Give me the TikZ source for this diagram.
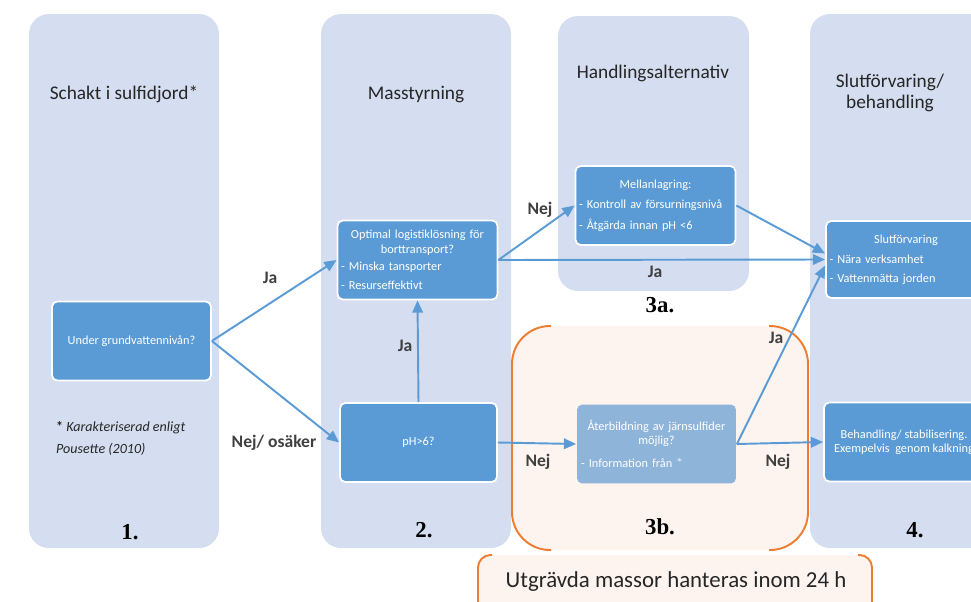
\documentclass[tikz,border=0pt]{standalone}
\usepackage{fontspec}
\setmainfont{Carlito}
\newfontfamily\numfont{Liberation Serif}
\usetikzlibrary{arrows.meta,positioning}
\definecolor{colbg}{RGB}{212,222,240}
\definecolor{boxblue}{RGB}{91,155,213}
\definecolor{boxpale}{RGB}{142,180,218}
\definecolor{peach}{RGB}{253,244,240}
\definecolor{orangeline}{RGB}{237,125,49}
\definecolor{txtgray}{RGB}{38,38,38}
\definecolor{lblgray}{RGB}{64,64,64}
\newcommand{\itm}[1]{\makebox[\hsize][l]{- #1}}
\tikzset{
  column/.style={fill=colbg, rounded corners=0.4cm},
  box/.style={draw=white, line width=1pt, fill=boxblue, rounded corners=3pt, text=white,
    font=\fontsize{7}{8.2}\selectfont, minimum width=3.18cm, minimum height=1.58cm, inner sep=2pt},
  listbox/.style={box, text width=3.06cm, align=center},
  title/.style={text=txtgray, font=\fontsize{11}{12}\selectfont, align=center},
  num/.style={text=black, font=\numfont\bfseries\fontsize{13}{15}\selectfont},
  lbl/.style={text=lblgray, font=\bfseries\fontsize{10}{12}\selectfont},
  flow/.style={draw=boxblue, line width=1.1pt, -{Triangle[length=7pt,width=6pt]}},
  bracket/.style={draw=orangeline, line width=1.1pt}
}

\begin{document}
\begin{tikzpicture}[x=0.02cm,y=-0.02cm]
  \useasboundingbox (0,0) rectangle (971,602);
  \clip (0,0) rectangle (971,602);

  % kolumner
  \fill[column] (29,14) rectangle (219,548);
  \fill[column] (321,14) rectangle (511,548);
  \fill[column] (558,16) rectangle (749,291);
  \fill[column] (810,14) rectangle (1010,548);

  % 3b
  \fill[peach, rounded corners=0.76cm] (512,326) rectangle (808,550);
  \draw[bracket, rounded corners=0.76cm] (551,326) -- (512,326) -- (512,550) -- (551,550);
  \draw[bracket, rounded corners=0.76cm] (769,326) -- (808,326) -- (808,550) -- (769,550);

  % 24 h
  \fill[peach, rounded corners=0.25cm] (478,555) rectangle (872,640);
  \draw[bracket, rounded corners=0.25cm] (492,555) -- (478,555) -- (478,640);
  \draw[bracket, rounded corners=0.25cm] (858,555) -- (872,555) -- (872,640);
  \node[text=txtgray, font=\fontsize{13}{15}\selectfont] (note) at (676,582) {Utgrävda massor hanteras inom 24 h};

  \node[title] (t1) at (124,94) {Schakt i sulfidjord*};
  \node[title] (t2) at (416,95) {Masstyrning};
  \node[title] (t3) at (653,73) {Handlingsalternativ};
  \node[title] (t4) at (890,93) {Slutförvaring/\\behandling};

  \node[num] (n1) at (130,532) {1.};
  \node[num] (n2) at (424,530) {2.};
  \node[num] (n3a) at (660,305) {3a.};
  \node[num] (n3b) at (660,527) {3b.};
  \node[num] (n4) at (915,530) {4.};

  \node[text=txtgray, font=\itshape\fontsize{8}{12.5}\selectfont, align=left, anchor=west] (fn) at (50,438)
    {{\upshape\bfseries *} Karakteriserad enligt\\Pousette (2010)};

  % rutor
  \node[box] (grund) at (131.5,341) {Under grundvattennivån?};
  \node[listbox] (logistik) at (417.5,260)
    {Optimal logistiklösning för\\borttransport?\\[2pt]\itm{Minska tansporter}\\[2.5pt]\itm{Resurseffektivt}};
  \node[box, minimum width=3.14cm] (ph) at (418.5,442.5) {pH>6?};
  \node[listbox] (mellan) at (655.5,205.5)
    {Mellanlagring:\\[3.5pt]\itm{Kontroll av försurningsnivå}\\[3.5pt]\itm{Åtgärda innan pH <6}};
  \node[listbox, fill=boxpale, draw=none, text width=3.02cm] (aterbild) at (656.5,444)
    {Återbildning av järnsulfider\\möjlig?\\[5pt]\itm{Information från $^{*}$}};
  \node[listbox, minimum height=1.54cm] (slut) at (906,259.5)
    {Slutförvaring\\[3.5pt]\itm{Nära verksamhet}\\[2.5pt]\itm{Vattenmätta jorden}};
  \node[box, align=center, minimum width=3.2cm] (behand) at (904,442)
    {Behandling/ stabilisering.\\Exempelvis\ \ genom kalkning};

  % pilar
  \draw[flow] (grund.east) -- (logistik.west);
  \draw[flow] (grund.east) -- (ph.west);
  \draw[flow] (ph.north) -- (logistik.south);
  \draw[flow] (ph.east) -- (aterbild.west);
  \draw[flow] (logistik.east) -- (mellan.west);
  \draw[flow] (logistik.east) -- (slut.west);
  \draw[flow] (mellan.east) -- ([yshift=0.12cm]slut.west);
  \draw[flow] (aterbild.east) -- ([yshift=-0.12cm]slut.west);
  \draw[flow] (aterbild.east) -- (behand.west);

  \node[lbl] (ja1) at (270,278) {Ja};
  \node[lbl] (nej1) at (274,443) {Nej/ osäker};
  \node[lbl] (ja2) at (405,346) {Ja};
  \node[lbl] (nej2) at (540,210) {Nej};
  \node[lbl] (ja3) at (655,272) {Ja};
  \node[lbl] (ja4) at (776,338) {Ja};
  \node[lbl] (nej3) at (538,462) {Nej};
  \node[lbl] (nej4) at (778,462) {Nej};
\end{tikzpicture}
\end{document}
